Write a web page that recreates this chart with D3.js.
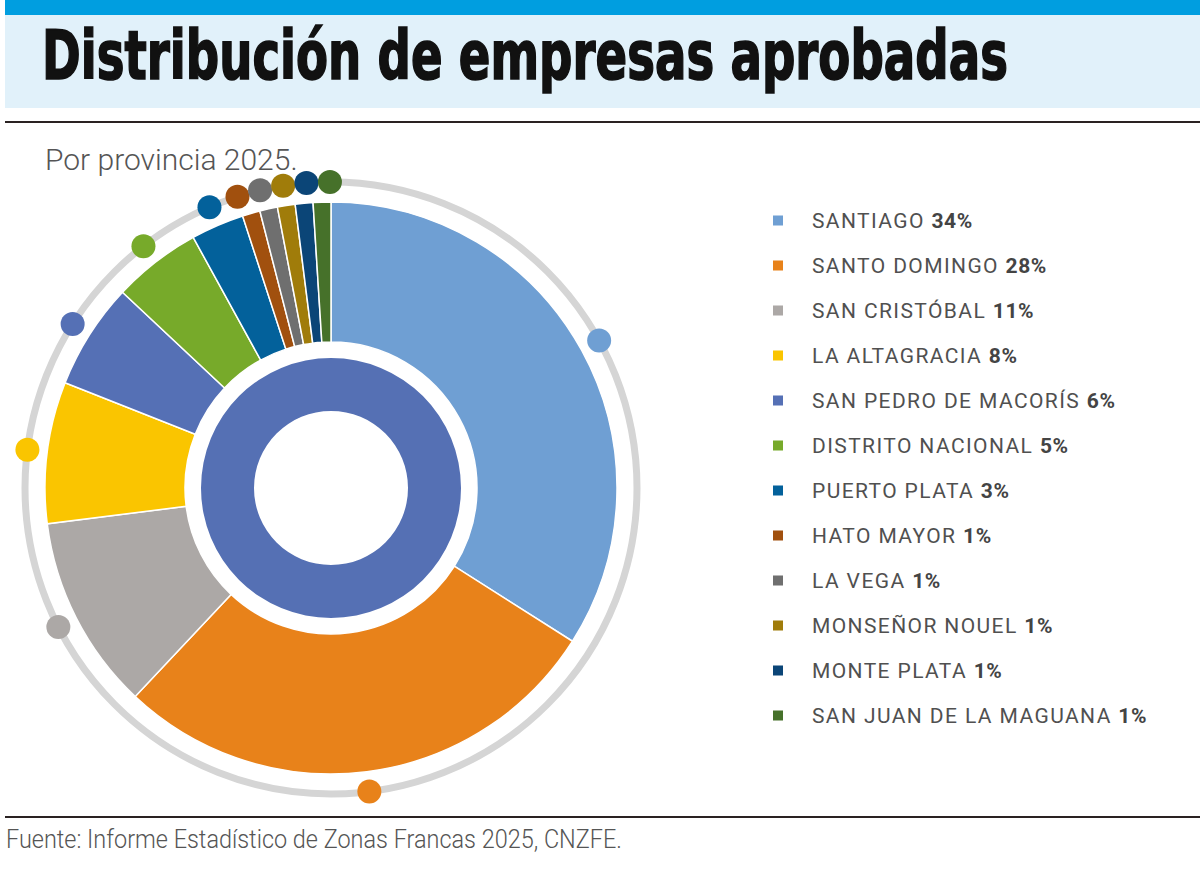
<!DOCTYPE html>
<html>
<head>
<meta charset="utf-8">
<script src="https://cdn.jsdelivr.net/npm/d3@7"></script>
<style>
  html, body { margin: 0; padding: 0; background: #fff; }
  svg { display: block; }
</style>
</head>
<body>
<svg id="chart" width="1200" height="880"></svg>
<script>
// ---- data ----
const provinces = ["SANTIAGO", "SANTO DOMINGO", "SAN CRISTÓBAL", "LA ALTAGRACIA",
  "SAN PEDRO DE MACORÍS", "DISTRITO NACIONAL", "PUERTO PLATA", "HATO MAYOR",
  "LA VEGA", "MONSEÑOR NOUEL", "MONTE PLATA", "SAN JUAN DE LA MAGUANA"];
const shares = [34, 28, 11, 8, 6, 5, 3, 1, 1, 1, 1, 1];
const colors = ["#6f9fd3", "#e8821a", "#aca8a6", "#fac500", "#5570b5", "#77aa2a",
  "#03619b", "#a1500e", "#6f6f6f", "#a07c0a", "#0b4577", "#46712a"];
const titleText = "Distribución de empresas aprobadas";
const subtitleText = "Por provincia 2025.";
const sourceText = "Fuente: Informe Estadístico de Zonas Francas 2025, CNZFE.";

const data = provinces.map((p, i) => ({ name: p, value: shares[i], color: colors[i] }));

const svg = d3.select("#chart");

// horizontally squeeze a text to a target width (condensed look)
function fitWidth(sel, x, y, target) {
  const len = sel.node().getComputedTextLength();
  const sx = Math.min(1, target / len);
  sel.attr("x", 0).attr("y", 0).attr("transform", `translate(${x},${y}) scale(${sx},1)`);
}

// ---- header ----
svg.append("rect").attr("x", 5).attr("y", 0).attr("width", 1195).attr("height", 15).attr("fill", "#009ee0");
svg.append("rect").attr("x", 5).attr("y", 15).attr("width", 1195).attr("height", 93).attr("fill", "#e1f1fa");
const title = svg.append("text")
  .attr("font-family", "'DejaVu Sans Condensed', 'Liberation Sans', sans-serif")
  .attr("font-weight", "bold")
  .attr("font-size", 67)
  .attr("fill", "#111").attr("stroke", "#111").attr("stroke-width", 1.6)
  .text(titleText);
fitWidth(title, 42, 79, 966);
svg.append("line").attr("x1", 5).attr("x2", 1200).attr("y1", 122).attr("y2", 122)
  .attr("stroke", "#2a2222").attr("stroke-width", 2);
const sub = svg.append("text")
  .attr("font-family", "Roboto, 'Liberation Sans', sans-serif")
  .attr("font-weight", 300)
  .attr("font-size", 30)
  .attr("fill", "#555")
  .text(subtitleText);
fitWidth(sub, 45, 170, 258);

// ---- donut ----
const cx = 331, cy = 488;
const g = svg.append("g").attr("transform", `translate(${cx},${cy})`);

const ringR = 306, dotR = 12;
g.append("circle").attr("r", ringR).attr("fill", "none").attr("stroke", "#d5d5d5").attr("stroke-width", 7);

const pie = d3.pie().value(d => d.value).sort(null);
const arcs = pie(data);
const arc = d3.arc().innerRadius(146).outerRadius(286);
g.selectAll("path.slice").data(arcs).join("path")
  .attr("class", "slice")
  .attr("d", arc)
  .attr("fill", d => d.data.color)
  .attr("stroke", "#fff").attr("stroke-width", 1.5);

// inner ring
const innerArc = d3.arc().innerRadius(77).outerRadius(130).startAngle(0).endAngle(2 * Math.PI);
g.append("path").attr("d", innerArc()).attr("fill", "#5570b4");

// dots at mid angles, relaxed to avoid overlap
const minSep = (2 * dotR - 0.5) / ringR;
const dots = arcs.map(a => ({ angle: (a.startAngle + a.endAngle) / 2, color: a.data.color }));
for (let it = 0; it < 300; it++) {
  for (let i = 0; i < dots.length - 1; i++) {
    const gap = dots[i + 1].angle - dots[i].angle;
    if (gap < minSep) {
      const push = (minSep - gap) / 2;
      dots[i].angle -= push;
      dots[i + 1].angle += push;
    }
  }
}
g.selectAll("circle.dot").data(dots).join("circle")
  .attr("class", "dot")
  .attr("cx", d => ringR * Math.sin(d.angle))
  .attr("cy", d => -ringR * Math.cos(d.angle))
  .attr("r", dotR)
  .attr("fill", d => d.color);

// ---- legend ----
const y = d3.scaleBand().domain(provinces).range([198, 738]);
const leg = svg.append("g");
const rows = leg.selectAll("g").data(data).join("g")
  .attr("transform", d => `translate(0,${y(d.name) + y.bandwidth() / 2})`);
rows.append("rect").attr("x", 773).attr("y", -5).attr("width", 10).attr("height", 10).attr("fill", d => d.color);
const txt = rows.append("text")
  .attr("x", 812).attr("y", 7.5)
  .attr("font-family", "Roboto, 'Liberation Sans', sans-serif")
  .attr("font-size", 21)
  .attr("letter-spacing", "1.4px")
  .attr("fill", "#505050");
txt.append("tspan").text(d => d.name + " ");
txt.append("tspan").attr("font-weight", "bold").attr("fill", "#444").attr("letter-spacing", "0.6px").text(d => d.value + "%");

// ---- footer ----
svg.append("line").attr("x1", 5).attr("x2", 1200).attr("y1", 817).attr("y2", 817)
  .attr("stroke", "#2a2222").attr("stroke-width", 2);
const src = svg.append("text")
  .attr("font-family", "Roboto, 'Liberation Sans', sans-serif")
  .attr("font-weight", 300)
  .attr("font-size", 26)
  .attr("fill", "#555")
  .text(sourceText);
fitWidth(src, 6, 848, 616);
</script>
</body>
</html>
